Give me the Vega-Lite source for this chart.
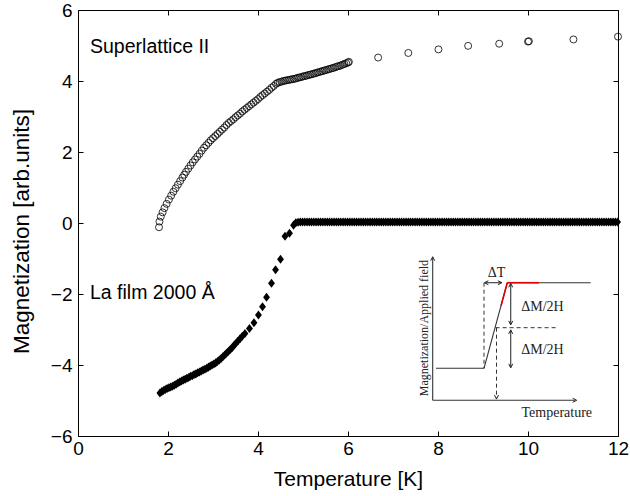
{
  "$schema": "https://vega.github.io/schema/vega-lite/v6.json",
  "width": 540,
  "height": 426,
  "autosize": {"type": "none"},
  "padding": {"left": 78, "top": 10, "right": 12, "bottom": 60},
  "background": "white",
  "config": {
    "view": {"stroke": "black", "strokeWidth": 1},
    "axis": {
      "labelFont": "Liberation Sans", "labelFontSize": 19, "labelColor": "black",
      "titleFont": "Liberation Sans", "titleFontSize": 21, "titleFontWeight": "normal", "titleColor": "black",
      "tickColor": "black", "tickSize": -5, "tickWidth": 1, "grid": false, "domain": false,
      "labelFlush": false, "labelOverlap": false, "labelBound": false
    }
  },
  "datasets": {
    "sl": [
      {"t":1.80,"m":-0.12},{"t":1.81,"m":0.04},{"t":1.84,"m":0.18},{"t":1.88,"m":0.30},{"t":1.92,"m":0.42},{"t":1.97,"m":0.54},{"t":2.02,"m":0.66},{"t":2.07,"m":0.77},{"t":2.12,"m":0.88},{"t":2.17,"m":0.98},{"t":2.22,"m":1.08},{"t":2.27,"m":1.18},{"t":2.32,"m":1.28},{"t":2.36,"m":1.36},
      {"t":2.40,"m":1.44},{"t":2.45,"m":1.53},{"t":2.50,"m":1.62},{"t":2.55,"m":1.71},{"t":2.60,"m":1.79},{"t":2.65,"m":1.87},{"t":2.70,"m":1.95},{"t":2.75,"m":2.04},{"t":2.80,"m":2.12},{"t":2.85,"m":2.19},{"t":2.90,"m":2.26},{"t":2.95,"m":2.33},{"t":3.00,"m":2.39},{"t":3.05,"m":2.45},{"t":3.10,"m":2.51},{"t":3.15,"m":2.57},{"t":3.20,"m":2.63},{"t":3.25,"m":2.69},{"t":3.30,"m":2.76},{"t":3.35,"m":2.82},{"t":3.40,"m":2.87},{"t":3.45,"m":2.92},{"t":3.50,"m":2.98},{"t":3.55,"m":3.03},{"t":3.60,"m":3.08},{"t":3.65,"m":3.14},{"t":3.70,"m":3.19},{"t":3.75,"m":3.24},{"t":3.80,"m":3.29},{"t":3.85,"m":3.34},{"t":3.90,"m":3.39},{"t":3.95,"m":3.44},{"t":4.00,"m":3.49},{"t":4.05,"m":3.55},{"t":4.10,"m":3.60},{"t":4.15,"m":3.65},{"t":4.20,"m":3.70},{"t":4.25,"m":3.75},{"t":4.30,"m":3.81},{"t":4.35,"m":3.86},{"t":4.40,"m":3.92},
      {"t":4.44,"m":3.95},{"t":4.48,"m":3.97},{"t":4.52,"m":3.98},{"t":4.56,"m":4.00},{"t":4.60,"m":4.01},{"t":4.64,"m":4.02},{"t":4.68,"m":4.03},{"t":4.72,"m":4.04},{"t":4.76,"m":4.05},{"t":4.80,"m":4.06},{"t":4.84,"m":4.07},{"t":4.88,"m":4.09},{"t":4.92,"m":4.10},{"t":4.96,"m":4.11},{"t":5.00,"m":4.13},{"t":5.04,"m":4.14},{"t":5.08,"m":4.15},{"t":5.12,"m":4.17},{"t":5.16,"m":4.18},{"t":5.20,"m":4.19},{"t":5.24,"m":4.21},{"t":5.28,"m":4.22},{"t":5.32,"m":4.24},{"t":5.36,"m":4.25},{"t":5.40,"m":4.27},{"t":5.44,"m":4.28},{"t":5.48,"m":4.30},{"t":5.52,"m":4.31},{"t":5.56,"m":4.33},{"t":5.60,"m":4.34},{"t":5.64,"m":4.36},{"t":5.68,"m":4.37},{"t":5.72,"m":4.39},{"t":5.76,"m":4.41},{"t":5.80,"m":4.42},{"t":5.84,"m":4.44},{"t":5.88,"m":4.46},{"t":5.92,"m":4.48},{"t":5.96,"m":4.50},{"t":6.00,"m":4.52},{"t":6.02,"m":4.54},
      {"t":6.67,"m":4.66},{"t":7.34,"m":4.79},{"t":8.01,"m":4.89},{"t":8.67,"m":4.99},{"t":9.36,"m":5.05},{"t":10.00,"m":5.11},{"t":10.02,"m":5.12},{"t":11.01,"m":5.17},{"t":12.00,"m":5.25}
    ],
    "la": [
      {"t":1.82,"m":-4.79},{"t":1.86,"m":-4.75},{"t":1.90,"m":-4.72},{"t":1.94,"m":-4.69},{"t":1.98,"m":-4.66},{"t":2.02,"m":-4.64},{"t":2.06,"m":-4.62},{"t":2.10,"m":-4.60},{"t":2.14,"m":-4.57},{"t":2.18,"m":-4.54},{"t":2.22,"m":-4.51},{"t":2.26,"m":-4.48},{"t":2.30,"m":-4.45},{"t":2.34,"m":-4.42},{"t":2.38,"m":-4.40},{"t":2.42,"m":-4.37},{"t":2.46,"m":-4.35},{"t":2.50,"m":-4.32},{"t":2.54,"m":-4.30},{"t":2.58,"m":-4.27},{"t":2.62,"m":-4.25},{"t":2.66,"m":-4.22},{"t":2.70,"m":-4.20},{"t":2.74,"m":-4.17},{"t":2.78,"m":-4.14},{"t":2.82,"m":-4.12},{"t":2.86,"m":-4.09},{"t":2.90,"m":-4.06},{"t":2.94,"m":-4.03},{"t":2.98,"m":-4.00},{"t":3.02,"m":-3.97},{"t":3.06,"m":-3.94},{"t":3.10,"m":-3.90},{"t":3.14,"m":-3.86},{"t":3.18,"m":-3.82},{"t":3.22,"m":-3.77},{"t":3.26,"m":-3.72},{"t":3.30,"m":-3.67},{"t":3.34,"m":-3.62},{"t":3.38,"m":-3.57},{"t":3.42,"m":-3.52},{"t":3.46,"m":-3.46},{"t":3.50,"m":-3.40},{"t":3.55,"m":-3.33},{"t":3.60,"m":-3.26},{"t":3.65,"m":-3.19},{"t":3.71,"m":-3.11},
      {"t":3.81,"m":-2.97},{"t":3.91,"m":-2.81},{"t":4.01,"m":-2.59},{"t":4.10,"m":-2.36},{"t":4.19,"m":-2.09},{"t":4.30,"m":-1.70},{"t":4.39,"m":-1.32},{"t":4.50,"m":-1.02},{"t":4.60,"m":-0.37},{"t":4.70,"m":-0.29},{"t":4.79,"m":-0.06},
      {"t":4.84,"m":0.01},{"t":4.89,"m":0.02},{"t":4.94,"m":0.03},{"t":4.99,"m":0.03},{"t":5.04,"m":0.03},{"t":5.09,"m":0.03},{"t":5.14,"m":0.03},{"t":5.19,"m":0.03},{"t":5.24,"m":0.03},{"t":5.29,"m":0.03},{"t":5.34,"m":0.03},{"t":5.39,"m":0.03},{"t":5.44,"m":0.03},{"t":5.49,"m":0.03},{"t":5.54,"m":0.03},{"t":5.59,"m":0.03},{"t":5.64,"m":0.03},{"t":5.69,"m":0.03},{"t":5.74,"m":0.03},{"t":5.79,"m":0.03},
      {"t":5.84,"m":0.03},{"t":5.89,"m":0.03},{"t":5.94,"m":0.03},{"t":5.99,"m":0.03},{"t":6.04,"m":0.03},{"t":6.09,"m":0.03},{"t":6.14,"m":0.03},{"t":6.19,"m":0.03},{"t":6.24,"m":0.03},{"t":6.29,"m":0.03},{"t":6.34,"m":0.03},{"t":6.39,"m":0.03},{"t":6.44,"m":0.03},{"t":6.49,"m":0.03},{"t":6.54,"m":0.03},{"t":6.59,"m":0.03},{"t":6.64,"m":0.03},{"t":6.69,"m":0.03},{"t":6.74,"m":0.03},{"t":6.79,"m":0.03},
      {"t":6.84,"m":0.03},{"t":6.89,"m":0.03},{"t":6.94,"m":0.03},{"t":6.99,"m":0.03},{"t":7.04,"m":0.03},{"t":7.09,"m":0.03},{"t":7.14,"m":0.03},{"t":7.19,"m":0.03},{"t":7.24,"m":0.03},{"t":7.29,"m":0.03},{"t":7.34,"m":0.03},{"t":7.39,"m":0.03},{"t":7.44,"m":0.03},{"t":7.49,"m":0.03},{"t":7.54,"m":0.03},{"t":7.59,"m":0.03},{"t":7.64,"m":0.03},{"t":7.69,"m":0.03},{"t":7.74,"m":0.03},{"t":7.79,"m":0.03},
      {"t":7.84,"m":0.03},{"t":7.89,"m":0.03},{"t":7.94,"m":0.03},{"t":7.99,"m":0.03},{"t":8.04,"m":0.03},{"t":8.09,"m":0.03},{"t":8.14,"m":0.03},{"t":8.19,"m":0.03},{"t":8.24,"m":0.03},{"t":8.29,"m":0.03},{"t":8.34,"m":0.03},{"t":8.39,"m":0.03},{"t":8.44,"m":0.03},{"t":8.49,"m":0.03},{"t":8.54,"m":0.03},{"t":8.59,"m":0.03},{"t":8.64,"m":0.03},{"t":8.69,"m":0.03},{"t":8.74,"m":0.03},{"t":8.79,"m":0.03},
      {"t":8.84,"m":0.03},{"t":8.89,"m":0.03},{"t":8.94,"m":0.03},{"t":8.99,"m":0.03},{"t":9.04,"m":0.03},{"t":9.09,"m":0.03},{"t":9.14,"m":0.03},{"t":9.19,"m":0.03},{"t":9.24,"m":0.03},{"t":9.29,"m":0.03},{"t":9.34,"m":0.03},{"t":9.39,"m":0.03},{"t":9.44,"m":0.03},{"t":9.49,"m":0.03},{"t":9.54,"m":0.03},{"t":9.59,"m":0.03},{"t":9.64,"m":0.03},{"t":9.69,"m":0.03},{"t":9.74,"m":0.03},{"t":9.79,"m":0.03},
      {"t":9.84,"m":0.03},{"t":9.89,"m":0.03},{"t":9.94,"m":0.03},{"t":9.99,"m":0.03},{"t":10.04,"m":0.03},{"t":10.09,"m":0.03},{"t":10.14,"m":0.03},{"t":10.19,"m":0.03},{"t":10.24,"m":0.03},{"t":10.29,"m":0.03},{"t":10.34,"m":0.03},{"t":10.39,"m":0.03},{"t":10.44,"m":0.03},{"t":10.49,"m":0.03},{"t":10.54,"m":0.03},{"t":10.59,"m":0.03},{"t":10.64,"m":0.03},{"t":10.69,"m":0.03},{"t":10.74,"m":0.03},{"t":10.79,"m":0.03},
      {"t":10.84,"m":0.03},{"t":10.89,"m":0.03},{"t":10.94,"m":0.03},{"t":10.99,"m":0.03},{"t":11.04,"m":0.03},{"t":11.09,"m":0.03},{"t":11.14,"m":0.03},{"t":11.19,"m":0.03},{"t":11.24,"m":0.03},{"t":11.29,"m":0.03},{"t":11.34,"m":0.03},{"t":11.39,"m":0.03},{"t":11.44,"m":0.03},{"t":11.49,"m":0.03},{"t":11.54,"m":0.03},{"t":11.59,"m":0.03},{"t":11.64,"m":0.03},{"t":11.69,"m":0.03},{"t":11.74,"m":0.03},{"t":11.79,"m":0.03},
      {"t":11.84,"m":0.03},{"t":11.89,"m":0.03},{"t":11.94,"m":0.03},{"t":11.99,"m":0.03}
    ],
    "insetSolid": [
      {"x":7.882,"y":-4.994,"x2":7.882,"y2":-0.98},
      {"x":7.882,"y":-4.994,"x2":11.05,"y2":-4.994},
      {"x":7.956,"y":-4.093,"x2":9.022,"y2":-4.093},
      {"x":9.022,"y":-4.093,"x2":9.54,"y2":-1.682},
      {"x":9.54,"y":-1.682,"x2":11.393,"y2":-1.682},
      {"x":9.616,"y":-1.72,"x2":9.616,"y2":-2.85},
      {"x":9.616,"y":-3.03,"x2":9.616,"y2":-4.06},
      {"x":9.05,"y":-1.682,"x2":9.40,"y2":-1.682}
    ],
    "insetRed": [
      {"x":9.40,"y":-2.334,"x2":9.54,"y2":-1.682},
      {"x":9.54,"y":-1.682,"x2":10.244,"y2":-1.682}
    ],
    "insetDashed": [
      {"x":9.022,"y":-1.682,"x2":9.022,"y2":-4.093},
      {"x":9.28,"y":-2.949,"x2":10.638,"y2":-2.949},
      {"x":9.30,"y":-2.949,"x2":9.30,"y2":-4.94}
    ],
    "headUp": [{"x":7.882,"y":-0.95},{"x":9.616,"y":-1.70},{"x":9.616,"y":-3.01}],
    "headDown": [{"x":9.616,"y":-2.87},{"x":9.616,"y":-4.08},{"x":9.30,"y":-4.96}],
    "headRight": [{"x":11.082,"y":-4.994},{"x":9.42,"y":-1.682}],
    "headLeft": [{"x":9.03,"y":-1.682}],
    "insetText": [
      {"x":9.30,"y":-1.40,"s":"ΔT"},
      {"x":10.32,"y":-2.375,"s":"ΔM/2H"},
      {"x":10.32,"y":-3.58,"s":"ΔM/2H"},
      {"x":10.64,"y":-5.36,"s":"Temperature"}
    ],
    "insetYLabel": [{"x":7.69,"y":-2.96,"s":"Magnetization/Applied field"}],
    "labels": [
      {"t":0.267,"m":4.96,"s":"Superlattice II"},
      {"t":0.267,"m":-1.97,"s":"La film 2000 Å"}
    ]
  },
  "layer": [
    {
      "mark": {"type": "rule", "color": "black", "strokeWidth": 0.8, "strokeDash": [7, 5]},
      "encoding": {"y": {"datum": 0, "type": "quantitative", "scale": {"domain": [-6, 6], "nice": false}, "axis": null}}
    },
    {
      "data": {"name": "sl"},
      "mark": {"type": "point", "shape": "circle", "filled": false, "stroke": "black", "strokeWidth": 0.8, "size": 49, "opacity": 1},
      "encoding": {
        "x": {"field": "t", "type": "quantitative", "scale": {"domain": [0, 12], "nice": false},
              "axis": {"orient": "bottom", "values": [0, 2, 4, 6, 8, 10, 12], "title": "Temperature [K]", "labelPadding": 8, "titlePadding": 10}},
        "y": {"field": "m", "type": "quantitative", "scale": {"domain": [-6, 6], "nice": false},
              "axis": {"orient": "left", "values": [-6, -4, -2, 0, 2, 4, 6], "title": "Magnetization [arb.units]", "titleFontSize": 22.5, "titleY": 221, "labelPadding": 11, "titlePadding": 17}}
      }
    },
    {
      "data": {"name": "la"},
      "mark": {"type": "point", "shape": "M0,-1.25L0.95,0L0,1.25L-0.95,0Z", "filled": true, "fill": "black", "stroke": null, "size": 52, "opacity": 1},
      "encoding": {
        "x": {"field": "t", "type": "quantitative", "scale": {"domain": [0, 12], "nice": false},
              "axis": {"orient": "top", "values": [0, 2, 4, 6, 8, 10, 12], "labels": false, "title": null}},
        "y": {"field": "m", "type": "quantitative", "scale": {"domain": [-6, 6], "nice": false},
              "axis": {"orient": "right", "values": [-6, -4, -2, 0, 2, 4, 6], "labels": false, "title": null}}
      }
    },
    {
      "data": {"name": "labels"},
      "mark": {"type": "text", "align": "left", "baseline": "middle", "font": "Liberation Sans", "fontSize": 19.5, "color": "black"},
      "encoding": {
        "x": {"field": "t", "type": "quantitative", "axis": null},
        "y": {"field": "m", "type": "quantitative", "axis": null},
        "text": {"field": "s"}
      }
    },
    {
      "data": {"name": "insetSolid"},
      "mark": {"type": "rule", "color": "#333333", "strokeWidth": 1.1},
      "encoding": {
        "x": {"field": "x", "type": "quantitative", "axis": null}, "y": {"field": "y", "type": "quantitative", "axis": null},
        "x2": {"field": "x2"}, "y2": {"field": "y2"}
      }
    },
    {
      "data": {"name": "insetDashed"},
      "mark": {"type": "rule", "color": "#333333", "strokeWidth": 1, "strokeDash": [4, 3]},
      "encoding": {
        "x": {"field": "x", "type": "quantitative", "axis": null}, "y": {"field": "y", "type": "quantitative", "axis": null},
        "x2": {"field": "x2"}, "y2": {"field": "y2"}
      }
    },
    {
      "data": {"name": "insetRed"},
      "mark": {"type": "rule", "color": "#e00000", "strokeWidth": 1.6},
      "encoding": {
        "x": {"field": "x", "type": "quantitative", "axis": null}, "y": {"field": "y", "type": "quantitative", "axis": null},
        "x2": {"field": "x2"}, "y2": {"field": "y2"}
      }
    },
    {
      "data": {"name": "headUp"},
      "mark": {"type": "point", "shape": "M-1,2L0,0L1,2", "filled": false, "stroke": "#222222", "strokeWidth": 1, "size": 16, "opacity": 1},
      "encoding": {"x": {"field": "x", "type": "quantitative", "axis": null}, "y": {"field": "y", "type": "quantitative", "axis": null}}
    },
    {
      "data": {"name": "headDown"},
      "mark": {"type": "point", "shape": "M-1,-2L0,0L1,-2", "filled": false, "stroke": "#222222", "strokeWidth": 1, "size": 16, "opacity": 1},
      "encoding": {"x": {"field": "x", "type": "quantitative", "axis": null}, "y": {"field": "y", "type": "quantitative", "axis": null}}
    },
    {
      "data": {"name": "headRight"},
      "mark": {"type": "point", "shape": "M-2,-1L0,0L-2,1", "filled": false, "stroke": "#222222", "strokeWidth": 1, "size": 16, "opacity": 1},
      "encoding": {"x": {"field": "x", "type": "quantitative", "axis": null}, "y": {"field": "y", "type": "quantitative", "axis": null}}
    },
    {
      "data": {"name": "headLeft"},
      "mark": {"type": "point", "shape": "M2,-1L0,0L2,1", "filled": false, "stroke": "#222222", "strokeWidth": 1, "size": 16, "opacity": 1},
      "encoding": {"x": {"field": "x", "type": "quantitative", "axis": null}, "y": {"field": "y", "type": "quantitative", "axis": null}}
    },
    {
      "data": {"name": "insetText"},
      "mark": {"type": "text", "align": "center", "baseline": "middle", "font": "Liberation Serif", "fontSize": 14, "color": "#222222"},
      "encoding": {
        "x": {"field": "x", "type": "quantitative", "axis": null}, "y": {"field": "y", "type": "quantitative", "axis": null},
        "text": {"field": "s"}
      }
    },
    {
      "data": {"name": "insetYLabel"},
      "mark": {"type": "text", "align": "center", "baseline": "middle", "angle": 270, "font": "Liberation Serif", "fontSize": 12, "color": "#222222"},
      "encoding": {
        "x": {"field": "x", "type": "quantitative", "axis": null}, "y": {"field": "y", "type": "quantitative", "axis": null},
        "text": {"field": "s"}
      }
    }
  ]
}
